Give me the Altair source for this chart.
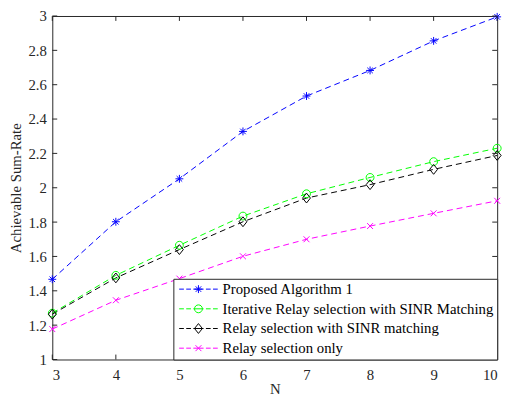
import altair as alt
import pandas as pd

N = [3, 4, 5, 6, 7, 8, 9, 10]
proposed = [1.467, 1.802, 2.052, 2.328, 2.534, 2.683, 2.855, 2.995]
iterative = [1.270, 1.490, 1.665, 1.835, 1.965, 2.060, 2.152, 2.230]
sinr_match = [1.264, 1.475, 1.640, 1.802, 1.940, 2.018, 2.107, 2.188]
relay_only = [1.177, 1.345, 1.471, 1.601, 1.700, 1.777, 1.851, 1.924]

names = [
    "Proposed Algorithm 1",
    "Iterative Relay selection with SINR Matching",
    "Relay selection with SINR matching",
    "Relay selection only",
]
colors = ["#0000ff", "#00ff00", "#000000", "#ff00ff"]

x_ticks = [3, 4, 5, 6, 7, 8, 9, 10]
y_ticks = [1.0, 1.2, 1.4, 1.6, 1.8, 2.0, 2.2, 2.4, 2.6, 2.8, 3.0]

# marker shapes (unit square paths)
star = "M-1,0L1,0M0,-1L0,1M-0.7,-0.7L0.7,0.7M-0.7,0.7L0.7,-0.7"
circle = "M1,0A1,1 0 1,1 -1,0A1,1 0 1,1 1,0Z"
diamond = "M0,-1.25L1,0L0,1.25L-1,0Z"
cross = "M-0.75,-0.75L0.75,0.75M-0.75,0.75L0.75,-0.75"
markers = [star, circle, diamond, cross]
dash = "M-4.9,0L-3.7,0M-3.1,0L-1.9,0M-1.3,0L1.3,0M1.9,0L3.1,0M3.7,0L4.9,0"
legend_paths = [dash + m for m in markers]

rows = []
for name, vals in zip(names, [proposed, iterative, sinr_match, relay_only]):
    for n, v in zip(N, vals):
        rows.append({"N": n, "rate": v, "series": name})
df = pd.DataFrame(rows)
xt = pd.DataFrame({"N": x_ticks})
yt = pd.DataFrame({"rate": y_ticks})

W, H = 452, 349
FONT = "Liberation Serif"
TXT = "#262626"

xscale = alt.Scale(domain=[3, 10], nice=False, zero=False)
yscale = alt.Scale(domain=[1, 3], nice=False, zero=False)
cscale = alt.Scale(domain=names, range=colors)

X = alt.X("N:Q", scale=xscale, title="N",
          axis=alt.Axis(values=x_ticks, format="d", ticks=False, domain=False,
                        grid=False, labelPadding=8, titlePadding=0))
Y = alt.Y("rate:Q", scale=yscale, title="Achievable Sum-Rate",
          axis=alt.Axis(values=y_ticks, format="~g", ticks=False, domain=False,
                        grid=False, labelPadding=6, titlePadding=5))

lines = alt.Chart(df).mark_line(strokeDash=[6, 4], strokeWidth=1).encode(
    x=X, y=Y, color=alt.Color("series:N", scale=cscale, legend=None)
)
points = alt.Chart(df).mark_point(filled=False, size=64, strokeWidth=1, opacity=1).encode(
    x=X, y=Y,
    color=alt.Color("series:N", scale=cscale, legend=None),
    shape=alt.Shape("series:N", scale=alt.Scale(domain=names, range=markers), legend=None),
)
legend_layer = alt.Chart(df).mark_point(filled=False, size=64, strokeWidth=1, opacity=0).encode(
    x=X, y=Y,
    color=alt.Color("series:N", scale=cscale, title=None),
    shape=alt.Shape("series:N", scale=alt.Scale(domain=names, range=legend_paths), title=None),
)

tick_style = dict(color=TXT, strokeWidth=1)
bt = alt.Chart(xt).mark_rule(**tick_style).encode(x=X, y=alt.value(H), y2=alt.value(H - 5))
tt = alt.Chart(xt).mark_rule(**tick_style).encode(x=X, y=alt.value(0), y2=alt.value(5))
lt = alt.Chart(yt).mark_rule(**tick_style).encode(y=Y, x=alt.value(0), x2=alt.value(5))
rt = alt.Chart(yt).mark_rule(**tick_style).encode(y=Y, x=alt.value(W), x2=alt.value(W - 5))

chart = alt.layer(lines, points, legend_layer, bt, tt, lt, rt).resolve_scale(
    color="independent", shape="independent"
).properties(
    width=W, height=H,
    autosize=alt.AutoSizeParams(type="none"),
    padding={"left": 45, "top": 5, "right": 11, "bottom": 37},
).configure_view(
    stroke=TXT, strokeWidth=1
).configure_axis(
    labelFont=FONT, labelFontSize=15, labelColor=TXT,
    titleFont=FONT, titleFontSize=15, titleColor=TXT, titleFontWeight="normal",
).configure_legend(
    orient="bottom-right", offset=0, padding=3, rowPadding=4,
    symbolSize=64, symbolStrokeWidth=1, symbolOffset=15, labelOffset=17,
    labelFont=FONT, labelFontSize=15, labelColor="#000000", labelLimit=0,
    strokeColor=TXT, fillColor="#ffffff", symbolOpacity=1,
)

chart.save("out.html", embed_options={"renderer": "svg", "actions": False})
